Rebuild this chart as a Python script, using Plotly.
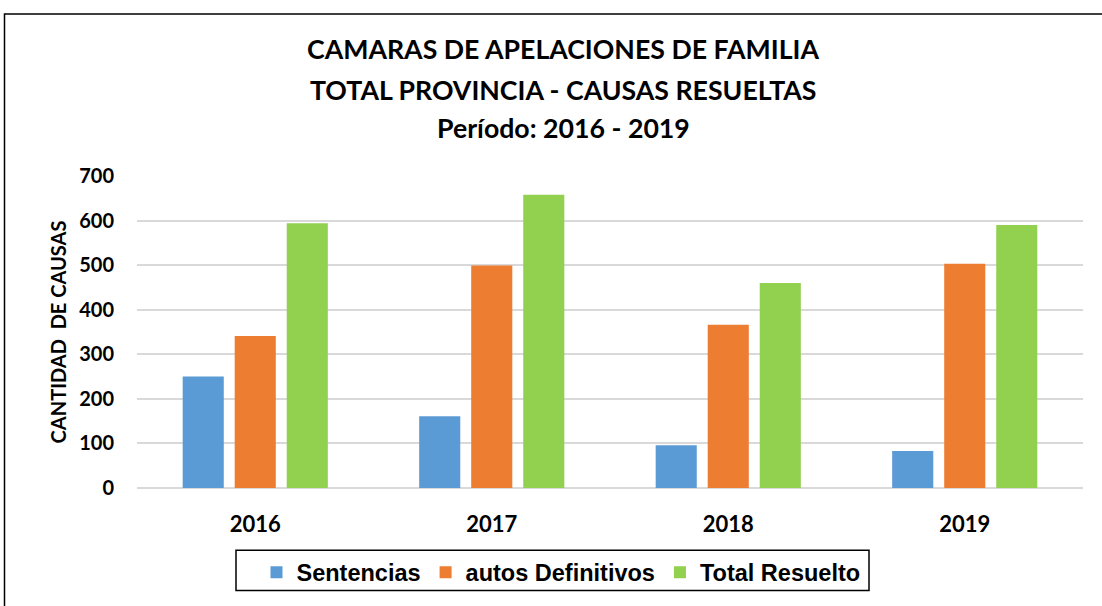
import plotly.graph_objects as go

years = ["2016", "2017", "2018", "2019"]
sentencias = [250, 161, 96, 83]
autos_definitivos = [341, 499, 366, 503]
total_resuelto = [594, 658, 460, 590]

series_names = ["Sentencias", "autos Definitivos", "Total Resuelto"]
series_colors = ["#5B9BD5", "#ED7D31", "#92D050"]
title_lines = ["CAMARAS DE APELACIONES DE FAMILIA",
               "TOTAL PROVINCIA - CAUSAS RESUELTAS",
               "Período: 2016 - 2019"]
y_ticks = [0, 100, 200, 300, 400, 500, 600, 700]

W, H = 1102, 606
L, R, T, B = 137, 19, 176, 112
PW, PH = W - L - R, H - T - B

def px(x):
    return (x - L) / PW

def py(y):
    return (H - B - y) / PH

fig = go.Figure()
for name, vals, col in zip(series_names, [sentencias, autos_definitivos, total_resuelto], series_colors):
    fig.add_trace(go.Bar(x=years, y=vals, name=name, marker=dict(color=col, line=dict(width=0))))

title_font = dict(family="Lato", size=26.7, color="#000000")
for txt, yy in zip(title_lines, [46.5, 88, 127]):
    fig.add_annotation(text=f"<b>{txt}</b>", xref="paper", yref="paper",
                       x=px(563), y=py(yy), xanchor="center", yanchor="middle",
                       showarrow=False, font=title_font)

# outer chart border
fig.add_shape(type="rect", xref="paper", yref="paper",
              x0=px(4.5), x1=px(1110), y0=py(11), y1=py(620),
              line=dict(color="#000000", width=1.5), fillcolor="rgba(0,0,0,0)")
# legend border
fig.add_shape(type="rect", xref="paper", yref="paper",
              x0=px(236), x1=px(869), y0=py(557.5), y1=py(598.5),
              line=dict(color="#000000", width=1.5), fillcolor="rgba(0,0,0,0)")

fig.update_layout(
    width=W, height=H,
    margin=dict(l=L, r=R, t=T, b=B, pad=0),
    paper_bgcolor="#FFFFFF", plot_bgcolor="#FFFFFF",
    barmode="group", bargap=0.34, bargroupgap=0.21,
    showlegend=True,
    legend=dict(orientation="h", x=px(561), xanchor="center", y=py(580), yanchor="middle",
                font=dict(family="Liberation Sans", size=23.5, color="#000000", weight="bold"),
                bgcolor="rgba(0,0,0,0)", borderwidth=0, itemclick=False),
    font=dict(family="Lato", color="#000000"),
)
fig.update_xaxes(showgrid=False, showline=False, ticks="", ticklabelstandoff=21,
                 tickfont=dict(family="Lato", size=22, color="#000000", weight="bold"))
fig.update_yaxes(range=[0, 700], tickvals=y_ticks, showgrid=True, gridcolor="#D9D9D9", gridwidth=1.5,
                 zeroline=True, zerolinecolor="#D9D9D9", zerolinewidth=1.5, showline=False,
                 ticks="", ticklabelstandoff=22,
                 tickfont=dict(family="Lato", size=20, color="#000000", weight="bold"),
                 title=dict(text="<b>CANTIDAD  DE CAUSAS</b>", standoff=7,
                            font=dict(family="Lato", size=20, color="#000000")))

fig.write_html("out.html", config={"displayModeBar": False},
               post_script="document.body.style.margin='0';document.body.style.overflow='hidden';")
